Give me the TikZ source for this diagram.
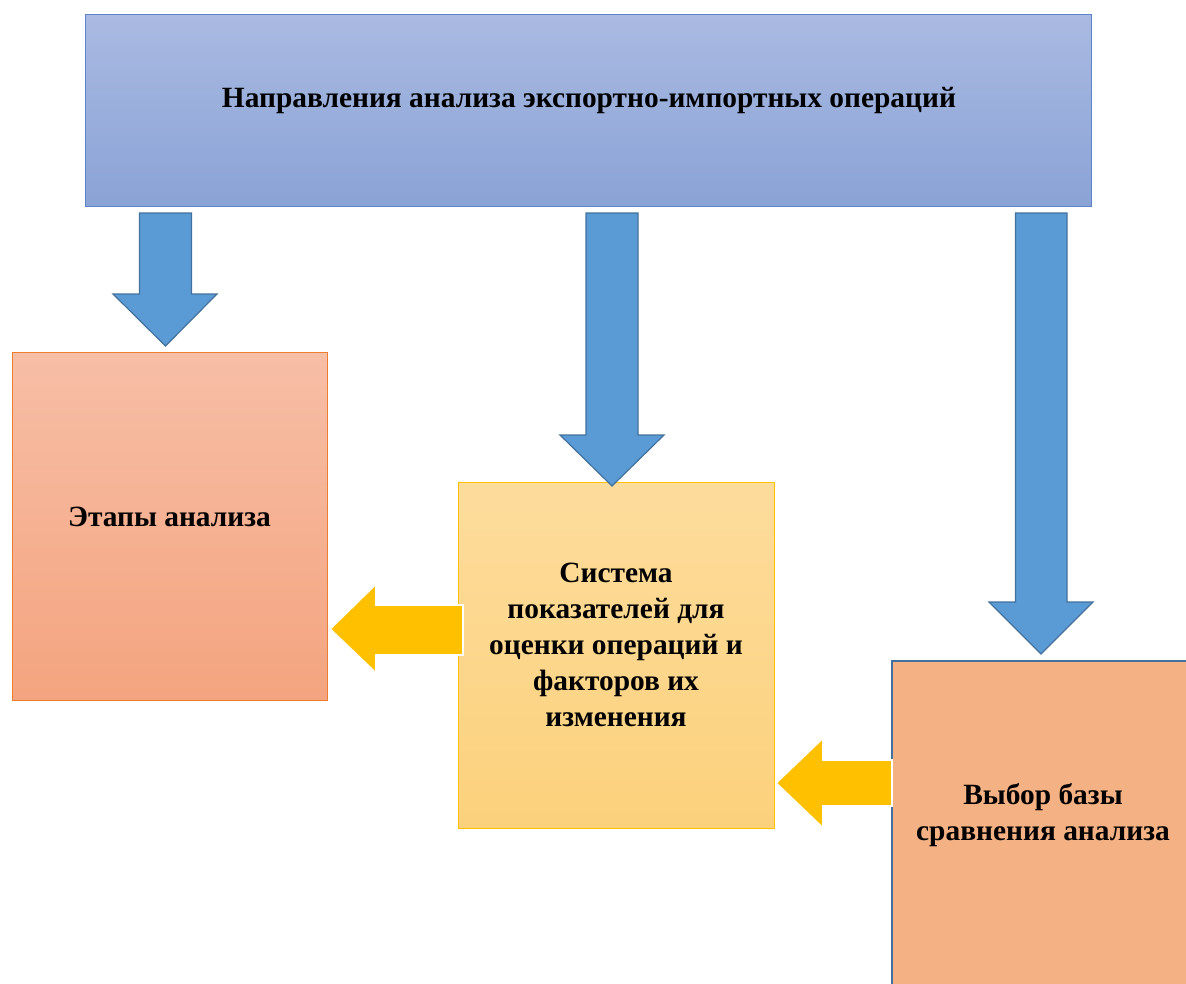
\documentclass[tikz,border=0pt]{standalone}
\usepackage{fontspec}
\setmainfont{Liberation Serif}
\usetikzlibrary{calc}
\definecolor{topA}{HTML}{AABAE2}
\definecolor{topB}{HTML}{8AA3D6}
\definecolor{topLine}{HTML}{5B84C9}
\definecolor{arrBlue}{HTML}{5B9BD5}
\definecolor{arrBlueLine}{HTML}{41719C}
\definecolor{salA}{HTML}{F7BEA6}
\definecolor{salB}{HTML}{F4A47F}
\definecolor{salLine}{HTML}{ED7D31}
\definecolor{yelA}{HTML}{FDDC9C}
\definecolor{yelB}{HTML}{FCD17C}
\definecolor{yelLine}{HTML}{FFC000}
\definecolor{peach}{HTML}{F4B183}
\definecolor{arrYel}{HTML}{FFC000}
\tikzset{
  lbl/.style={font=\bfseries\fontsize{29.4}{36}\selectfont, align=center, text=black},
  bluearrow/.style={fill=arrBlue, draw=arrBlueLine, line width=1.2pt, line join=miter},
  yelarrow/.style={fill=arrYel, draw=white, line width=1.8pt, line join=miter},
}
\begin{document}
\begin{tikzpicture}[x=1pt,y=-1pt]
\useasboundingbox (0,0) rectangle (1186,983);
\begin{scope}
\clip (0,0) rectangle (1186,983);
% top box
\shade[top color=topA, bottom color=topB] (85,14) rectangle (1091,206);
\draw[topLine, line width=1pt] (85,14) rectangle (1091,206);
\node[lbl] (top) at (589,101) {Направления анализа экспортно-импортных операций};
% left box
\shade[top color=salA, bottom color=salB] (12,352) rectangle (327,700);
\draw[salLine, line width=1pt] (12,352) rectangle (327,700);
\node[lbl] (left) at (169.5,517) {Этапы анализа};
% middle box
\shade[top color=yelA, bottom color=yelB] (458,482) rectangle (774,828);
\draw[yelLine, line width=1pt] (458,482) rectangle (774,828);
\node[lbl] (mid) at (616,645) {Система\\показателей для\\оценки операций и\\факторов их\\изменения};
% right box
\fill[peach] (892,661) rectangle (1200,1000);
\draw[arrBlueLine, line width=2pt] (892,1000) -- (892,661) -- (1200,661);
\node[lbl] (right) at (1043,815.5) {Выбор базы\\сравнения анализа};
% blue arrows
\draw[bluearrow] (139.5,213) -- (191.5,213) -- (191.5,294) -- (217,294) -- (165.5,346) -- (113,294) -- (139.5,294) -- cycle;
\draw[bluearrow] (586,213) -- (638,213) -- (638,435) -- (664,435) -- (612,486) -- (560,435) -- (586,435) -- cycle;
\draw[bluearrow] (1015.5,213) -- (1067,213) -- (1067,602) -- (1093,602) -- (1041,654) -- (989,602) -- (1015.5,602) -- cycle;
% yellow arrows
\draw[yelarrow] (463,605) -- (376,605) -- (376,584) -- (330,629) -- (376,673) -- (376,655) -- (463,655) -- cycle;
\draw[yelarrow] (892,760) -- (823,760) -- (823,738) -- (776,783) -- (823,828) -- (823,806) -- (892,806) -- cycle;
\end{scope}
\end{tikzpicture}
\end{document}
